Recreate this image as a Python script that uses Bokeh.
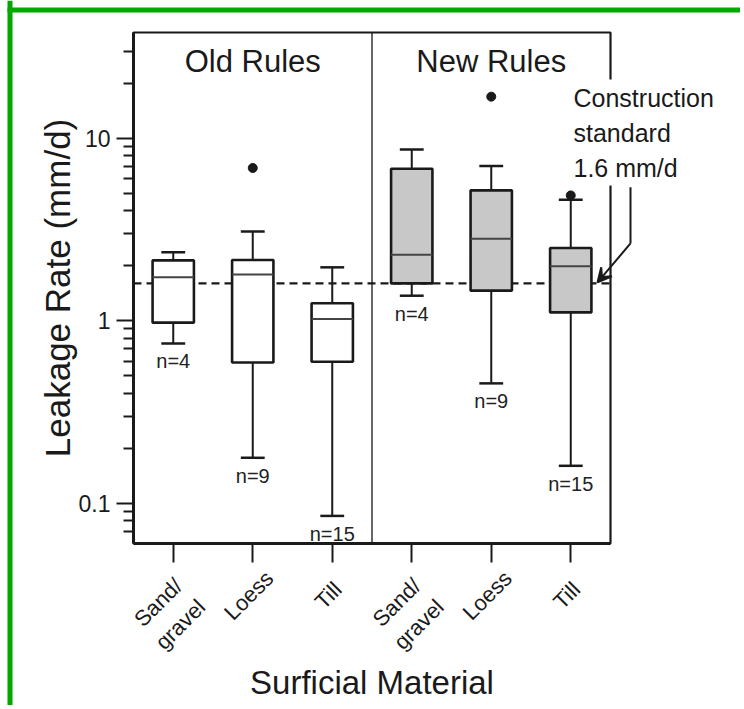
import math
from bokeh.plotting import figure
from bokeh.models import (FixedTicker, CustomJSTickFormatter, Label, Arrow,
                          VeeHead, BoxAnnotation, ColumnDataSource)
from bokeh.core.properties import value
from bokeh.embed import file_html
from bokeh.resources import INLINE

# ---- data ----
categories = ["Sand/\ngravel", "Loess", "Till", "Sand/\ngravel", "Loess", "Till"]
groups = ["Old Rules", "New Rules"]
whisker_low = [0.75, 0.177, 0.085, 1.37, 0.453, 0.16]
q1 = [0.975, 0.59, 0.595, 1.60, 1.46, 1.11]
median = [1.73, 1.79, 1.02, 2.30, 2.81, 1.99]
q3 = [2.14, 2.15, 1.245, 6.81, 5.18, 2.50]
whisker_high = [2.37, 3.08, 1.96, 8.67, 7.04, 4.60]
n_labels = ["n=4", "n=9", "n=15", "n=4", "n=9", "n=15"]
outlier_group = [1, 4, 5]
outlier_values = [6.87, 16.9, 4.86]
standard_value = 1.6
standard_text = "Construction\nstandard\n1.6 mm/d"
y_limits = (0.06, 38)
y_ticks = [0.1, 1, 10]
y_minor = [0.07, 0.08, 0.09, 0.2, 0.3, 0.4, 0.5, 0.6, 0.7, 0.8, 0.9,
           2, 3, 4, 5, 6, 7, 8, 9, 20, 30]

# ---- layout (pixels) ----
W, H = 740, 705
PX_L, PX_R, PX_T, PX_B = 133, 610, 32, 543
FONT = "Liberation Sans"
INK = "#1a1a1a"
GREEN = "#00a800"

n_cat = len(categories)
X0, X1 = 0, n_cat
YLO, YHI = y_limits
ux = (X1 - X0) / (PX_R - PX_L)                         # data units per px
ly = (math.log10(YHI) - math.log10(YLO)) / (PX_B - PX_T)  # decades per px
x_range = (X0 - PX_L * ux, X1 + (W - PX_R) * ux)
y_range = (10 ** (math.log10(YLO) - (H - PX_B) * ly), 10 ** (math.log10(YHI) + PX_T * ly))

xs = [i + 0.5 for i in range(n_cat)]
fills = ["white"] * (n_cat // 2) + ["#c8c8c8"] * (n_cat // 2)

p = figure(x_range=x_range, y_range=y_range, y_axis_type="log",
           frame_width=W, frame_height=H,
           min_border_left=0, min_border_top=0, min_border_right=0, min_border_bottom=0,
           output_backend="svg", toolbar_location=None,
           background_fill_color="white", border_fill_color="white")
p.grid.visible = False
p.outline_line_color = None

# ---- axes ----
xa = p.xaxis[0]
xa.fixed_location = YLO
xa.bounds = (X0, X1)
xa.ticker = FixedTicker(ticks=xs)
xa.major_label_overrides = {x: "" for x in xs}
xa.minor_tick_line_color = None
xa.major_tick_out = 19
xa.major_tick_in = 0
xa.major_tick_line_width = 2
xa.major_tick_line_color = INK
xa.axis_line_width = 3
xa.axis_line_color = INK
xa.axis_label = "Surficial Material"
xa.axis_label_text_font = FONT
xa.axis_label_text_font_size = "33px"
xa.axis_label_text_font_style = "normal"
xa.axis_label_text_color = INK
xa.axis_label_standoff = 101

ya = p.yaxis[0]
ya.fixed_location = X0
ya.bounds = (YLO, YHI)
ya.ticker = FixedTicker(ticks=y_ticks, minor_ticks=y_minor)
ya.formatter = CustomJSTickFormatter(code="return String(tick);")
ya.major_tick_out = 17
ya.major_tick_in = 0
ya.minor_tick_out = 10
ya.minor_tick_in = 0
ya.major_tick_line_width = 2
ya.minor_tick_line_width = 2
ya.major_tick_line_color = INK
ya.minor_tick_line_color = INK
ya.axis_line_width = 3
ya.axis_line_color = INK
ya.major_label_text_font = FONT
ya.major_label_text_font_size = "23px"
ya.major_label_text_color = INK
ya.major_label_standoff = 6
ya.axis_label = "Leakage Rate (mm/d)"
ya.axis_label_text_font = FONT
ya.axis_label_text_font_size = "35px"
ya.axis_label_text_font_style = "normal"
ya.axis_label_text_color = INK
ya.axis_label_standoff = -1

# ---- plot box, divider, standard line ----
p.add_layout(BoxAnnotation(left=X0, right=X1, bottom=YLO, top=YHI, fill_alpha=0,
                           line_color=INK, line_alpha=1, line_width=2.2))
p.segment(x0=[n_cat / 2], y0=[YLO], x1=[n_cat / 2], y1=[YHI], line_color="#333333",
          line_width=1.5)
p.segment(x0=[X0], y0=[standard_value], x1=[X1], y1=[standard_value], line_color=INK,
          line_width=2.2, line_dash="8 5")

# ---- boxes ----
src = ColumnDataSource(dict(x=xs, lo=whisker_low, q1=q1, med=median, q3=q3,
                            hi=whisker_high, n=n_labels, fill=fills))
bw, cw = 0.52, 0.3
p.segment(x0="x", y0="q3", x1="x", y1="hi", source=src, line_color=INK, line_width=2)
p.segment(x0="x", y0="lo", x1="x", y1="q1", source=src, line_color=INK, line_width=2)
src_caps = ColumnDataSource(dict(x0=[x - cw / 2 for x in xs], x1=[x + cw / 2 for x in xs],
                                 lo=whisker_low, hi=whisker_high))
p.segment(x0="x0", y0="lo", x1="x1", y1="lo", source=src_caps, line_color=INK, line_width=2.5)
p.segment(x0="x0", y0="hi", x1="x1", y1="hi", source=src_caps, line_color=INK, line_width=2.5)
p.vbar(x="x", width=bw, bottom="q1", top="q3", source=src, fill_color="fill",
       line_color=INK, line_width=2.6)
src_med = ColumnDataSource(dict(x0=[x - bw / 2 for x in xs], x1=[x + bw / 2 for x in xs],
                                med=median))
p.segment(x0="x0", y0="med", x1="x1", y1="med", source=src_med, line_color="#444444",
          line_width=2)
p.scatter(x=[xs[i] for i in outlier_group], y=outlier_values, size=9,
          fill_color=INK, line_color=INK)
p.text(x="x", y="lo", text="n", source=src, y_offset=18, text_align="center",
       text_baseline="middle", text_font=value(FONT), text_font_size="20px",
       text_color="#222222")

# ---- category labels (rotated about their centre, below each tick) ----
lab_src = ColumnDataSource(dict(
    x=xs, y=[YLO] * n_cat, text=categories,
    yoff=[52 + 18 * c.count("\n") for c in categories]))
p.text(x="x", y="y", text="text", source=lab_src, angle=math.pi / 4,
       x_offset=-4, y_offset="yoff", text_align="center", text_baseline="middle",
       text_font=value(FONT), text_font_size="22px", text_color=INK,
       text_line_height=1.25)

# ---- group titles ----
for gx, g in zip([n_cat / 4, 3 * n_cat / 4], groups):
    p.add_layout(Label(x=gx, y=YHI, y_offset=-29, text=g, text_align="center",
                       text_baseline="middle", text_font=FONT, text_font_size="31px",
                       text_color=INK))

# ---- construction-standard annotation ----
p.add_layout(Label(x=X1 - 41 * ux, y=YHI, y_offset=-47, text=standard_text,
                   text_align="left", text_baseline="top", text_font=FONT,
                   text_font_size="25px", text_color=INK, text_line_height=1.25,
                   background_fill_color="white", padding=4))
p.add_layout(Arrow(x_start=X1 + 20 * ux, y_start=5.38, x_end=X1 + 20 * ux, y_end=2.65,
                   end=None, line_color=INK, line_width=2))
p.add_layout(Arrow(x_start=X1 + 20 * ux, y_start=2.65, x_end=X1 - 13 * ux, y_end=1.62,
                   end=VeeHead(size=14, line_color=INK, fill_color=INK, line_width=2),
                   line_color=INK, line_width=2))

# ---- green page frame ----
p.add_layout(BoxAnnotation(left=7, right=12, left_units="screen", right_units="screen",
                           fill_color=GREEN, fill_alpha=1, line_color=None))
p.add_layout(BoxAnnotation(left=7, bottom=H - 12, top=H - 7, left_units="screen",
                           bottom_units="screen", top_units="screen",
                           fill_color=GREEN, fill_alpha=1, line_color=None))

open("out.html", "w").write(file_html(p, INLINE))
